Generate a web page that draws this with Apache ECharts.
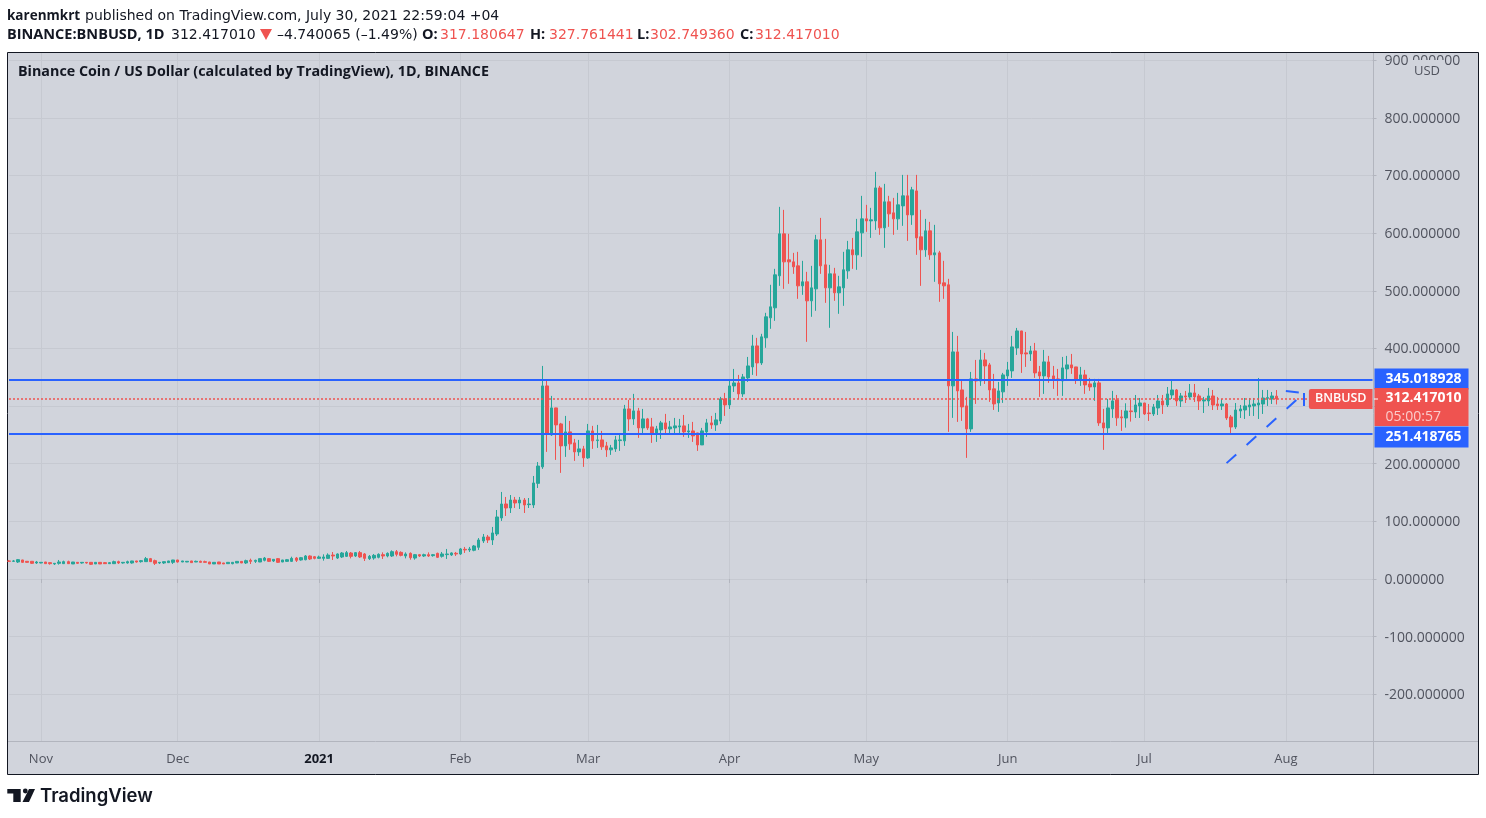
<!DOCTYPE html>
<html>
<head>
<meta charset="utf-8">
<title>BNBUSD</title>
<style>
  html, body { margin: 0; padding: 0; background: #fff; }
  #chart { width: 1486px; height: 818px; }
</style>
<script src="https://cdn.jsdelivr.net/npm/echarts@6/dist/echarts.min.js"></script>
</head>
<body>
<div id="chart"></div>
<script>
// daily candles, 25 Oct 2020 .. 30 Jul 2021, ten per line
var openVals = [
  31.3,30.7,29.5,33,30.7,30.7,27.8,27.8,29.5,28.4,
  26.1,27.2,26.6,30.1,26.1,28.9,27.8,28.9,28.9,26.1,
  28.9,28.4,26.6,26.6,30.1,27.8,27.8,27.8,31.3,30.1,
  30.1,35.3,31.8,27.8,27.8,28.4,28.9,33,29.5,29.5,
  31.3,29.5,30.7,30.1,29.5,26.1,29.5,27.8,26.6,26.6,
  27.8,30.6,27.8,32.4,30.6,29.5,32.4,35.3,31.2,35.3,
  29.5,30.6,30.6,36.4,33,33.5,39.9,38.7,35.8,35.8,
  35.8,41.6,36.4,38.2,39.3,45.1,39.9,45.7,43.4,35.3,
  36.4,37.6,42.2,39.9,39.9,47.4,46.2,39.9,44.5,36.4,
  42.2,39.9,42.2,40.5,44.5,39.4,42.3,41.7,44.6,43.4,
  51.5,50.4,49.8,55,66,72.9,67.7,78.1,105.9,130.1,
  123.2,137,131.9,137,129,128.4,165.9,194.5,334.9,250,
  296.8,269,230.9,255.2,236.1,220.5,225.7,210.1,256.9,240.1,
  241.3,230.9,224,225.7,240.1,239.6,295,277.7,291.6,262.1,
  277.7,263.8,253.4,258.6,270.8,260.4,262.1,263.8,265.6,255.2,
  256.9,253.4,232.6,255.2,270.8,267.3,274.2,312.4,302,334.9,
  340.1,321.1,348.8,367.9,404.3,374.8,418.4,453,470.4,525.9,
  598.7,553.6,550.1,543.2,508.5,515.5,482.5,503.3,588.3,544.9,
  505,529.3,496.4,505,534.5,571,562.3,600.4,624.7,621.2,
  621.2,678.4,609.1,654.2,635.1,624.7,647.2,664.6,631.6,673.2,
  593.5,571,603.9,562.3,565.7,513.7,510.3,335,393.9,328,
  300.3,260.4,347.1,343.6,380,371.4,329.8,305.5,324.6,352.3,
  361,400.8,430.3,392.2,390.4,395.6,359.2,352.3,376.6,352.3,
  347.1,343.6,364.4,371.4,367.9,345.4,354,338.4,333.2,340.2,
  270.8,262.1,295.1,310.7,281.2,279.3,291.5,289.7,300.2,305.3,
  288,286.3,296.7,308.8,301.9,319.2,327.9,308.8,317.5,315.8,
  322.7,317.5,308.8,308.8,317.5,303.6,300.2,303.6,281.1,263.7,
  291.5,293.2,298.4,300.2,301.9,303.6,313.4,312.3,317.18
];
var closeVals = [
  30.7,31.3,33.6,28.9,28.9,27.2,29.5,28.9,26.6,26.6,
  27.2,29.5,30.1,26.6,29.5,27.2,28.9,27.8,25.5,28.9,
  26.1,26.6,28.4,30.1,27.8,28.9,30.1,31.3,29.5,31.8,
  35.3,30.1,27.2,28.9,30.1,31.3,33,29.5,31.3,30.7,
  28.4,30.7,28.9,28.9,26.1,28.9,26.1,26.1,28.9,28.9,
  30.6,27.8,31.8,30.6,32.4,35.3,36.4,30.6,34.1,28.9,
  33,33.5,35.8,32.4,37,39.9,34.7,35.8,38.2,38.2,
  41.6,39.9,43.4,45.1,45.7,39.3,45.7,38.2,35.8,39.3,
  41,42.8,39.9,44.5,47.4,42.8,41,43.4,37,42.2,
  39.9,42.2,39.9,42.2,37.6,43.4,43.4,45.2,43.4,52.1,
  50.4,52.1,57.3,67.7,72.9,67.7,79.9,107.6,130.1,123.2,
  137,131.9,137,128.4,130.1,166.6,196,334.9,252.9,296.8,
  267.3,230.9,255.2,234.4,220.5,225.7,210.1,256.9,239.6,241.3,
  229.2,224,227.4,241.3,241.3,295,277.7,291.6,262.1,277.7,
  262.1,253.4,260.4,270.8,260.4,263.8,265.6,265.6,255.2,256.9,
  248.2,232.6,256.9,270.8,267.3,276,312.4,302,334.9,340.1,
  321.1,350.5,369.6,404.3,374.8,420,454.8,472.1,527.6,598.7,
  550.1,550.1,541.5,508.5,515.5,482.5,505,588.3,543.2,505,
  529.3,496.4,506.8,536.3,571,562.3,602.2,624.7,621.2,623,
  678.4,609.1,654.2,633.4,624.7,649,664.6,631.6,675,591.7,
  571,603.9,562.3,565.7,512,508.5,335,393.9,326.3,298.5,
  260.4,347.1,343.6,380,369.6,328,303.7,326.3,354,362.7,
  402.6,430.3,390.4,390.4,395.6,357.5,352.3,376.6,350.6,345.4,
  344.8,366.2,371.4,366.2,345.4,354,336.7,333.2,340.2,270.8,
  262.1,296.8,308.9,279.5,279.5,291.5,290.3,301.9,305.3,286.3,
  286.9,298.4,308.8,301.9,321,327.9,308.8,317.5,315.8,322.7,
  315.8,308.8,310.6,317.5,301.9,300.7,303.6,279.3,263.7,293.2,
  294.9,300.2,301.9,303.6,305.3,314,314.6,317.5,312.417
];
var lowVals = [
  29.5,29.5,27.8,28.4,28.4,26.1,26.1,27.2,26.4,24.9,
  24.3,24.9,26.4,26.4,26,26.1,26.6,26.6,24.3,26,
  26,26.4,26.4,26.4,26.1,26.6,26.6,26.6,28.4,28.4,
  29.9,29.9,24.3,26.1,26.1,28.2,26.1,28.4,29.3,29.3,
  28.2,29.3,28.7,28.7,26,26,26,26,26.4,25.5,
  27.6,27.6,26,26,27.8,29.3,30.6,29.5,29.5,27.8,
  29.3,29.5,29.5,29.5,31.8,32.4,33,34.1,34.7,31.8,
  34.7,33,34.7,36.4,38.2,35.8,38.2,36.4,31.2,33,
  33.5,35.8,34.7,37.6,38.2,39.3,39.3,35.8,33.5,33.5,
  38.2,38.2,38.2,38.7,36.4,37.1,34.8,40,40,41.7,
  45.2,46.9,48.1,50.4,62.5,62.5,59,74.7,100.7,109.3,
  114.5,123.2,121.5,114.5,123.2,123.2,157.8,191,220.5,248.2,
  206.6,184.1,211.8,224,204.9,213.6,194.5,208.4,225.7,227.4,
  224,211.8,215.3,220.5,222.2,230.9,256.9,267.3,244.8,251.7,
  258.6,236.1,237.8,243,251.7,250,251.7,250,246.5,244.8,
  237.8,222.2,232.4,246.5,260.4,256.9,269,282.9,295,324.5,
  312.4,315.9,341.9,354,352.3,371.3,401,434,447.8,508.5,
  503.3,512,529.3,486,492.9,411.4,454.8,465.2,529.3,479,
  435.7,482.5,460,473.8,520.7,538,536.3,558.8,602.2,591.7,
  605.6,597,574.4,610.8,597,605.6,612.6,586.5,614.3,562.3,
  508.5,558.8,553.6,515.5,480.8,486,255.2,279.5,272.5,274.3,
  210.1,255.2,303.7,335,338.4,307.2,293.3,289.9,305.5,335,
  348.8,388.7,357.5,367.9,378.3,348.8,315.9,321.1,340.2,329.8,
  317.6,317.6,347.1,355.8,338.4,335,321.1,326.3,309,265.6,
  224,251.7,279.5,265.6,256.9,262.6,273,279.3,279.3,284.5,
  274.1,282.8,284.5,286.3,298.4,312.3,300.2,298.4,305.3,312.3,
  307.1,293.2,288,300.2,293.2,293.2,293.2,275.9,253.3,260.3,
  279.3,277.6,282.8,282.8,277.6,286.3,300.2,303.6,302.75
];
var highVals = [
  33,33,34.7,33.3,31,31,31.3,29.5,29.6,28.6,
  27.4,33,31.8,31.8,29.6,29,29.3,29.3,29,29,
  29,29.5,29.5,31.8,31.8,29,31.8,31.5,31.5,33,
  38.2,36.5,33.6,29.2,30.3,31.5,33.2,33.2,31.5,31,
  31.5,31.8,31.8,31.8,29.7,29,29.7,28,29,29,
  30.8,30.8,33.5,35.3,33.5,35.5,38.2,36.4,34.3,36.4,
  33.2,34.7,38.7,38.2,38.2,41.6,41,39.9,40.5,42.8,
  44.5,46.8,44.5,46.8,48.6,46.8,46.8,48.6,45.1,41.6,
  43.4,44.5,46.2,46.2,49.7,50.3,48,46.2,46.2,43.4,
  43.4,43.9,46.2,43.4,45.7,46.9,52.1,46.3,46.9,53.8,
  55.6,55.6,59,71,78.1,76.4,90.3,119.7,151,142.3,
  145.7,142.3,142.3,140.5,140.5,178.7,202.9,369.6,345.3,317.6,
  297,270.8,282.9,274.2,243,241.3,230.9,269,265.6,267.3,
  256.9,237.8,232.6,248.2,250,302,310.7,321.1,296.8,295,
  279.4,279.4,265.6,274.2,286.4,274.2,279.4,277.7,284.6,269,
  272.5,253.6,262.1,277.7,282.9,288.1,315.9,322.8,343.6,364.4,
  354,355.7,385.2,423.5,418.3,425.3,461.7,510.3,538,645.5,
  640.3,598.7,565.7,567.5,551.9,532.8,543.2,597,626.4,590,
  544.9,539.7,525.9,567.5,586.5,591.7,624.7,664.6,649,643.8,
  706.2,681.9,685.4,664.6,661.1,669.8,701,701,680.2,701,
  640.3,624.7,619.5,614.3,569.2,551.9,520.7,428.6,421.7,345.4,
  315.9,359.2,380,397.4,392.2,374.8,355.8,341.9,357.5,376.6,
  421.7,435.5,430.5,428.6,404.3,409.5,369.6,397.4,387,369.6,
  364.4,385.2,387,390.4,368,367.9,362.7,348.8,347.1,347.1,
  295.1,312.4,326.3,319.3,293.3,304.8,310.6,319.2,314,305.5,
  303.6,303.6,319.2,319.2,333.1,343.5,329.6,322.7,326.2,338.3,
  338.3,321,315.8,331.4,327.9,315.8,312.3,305.3,284.5,305.3,
  301.9,314,314,314,348.7,327.9,327.9,324.4,327.76
];

var monthLabels = {
  '2020-11-01': 'Nov', '2020-12-01': 'Dec', '2021-01-01': '2021', '2021-02-01': 'Feb',
  '2021-03-01': 'Mar', '2021-04-01': 'Apr', '2021-05-01': 'May', '2021-06-01': 'Jun',
  '2021-07-01': 'Jul', '2021-08-01': 'Aug'
};
var priceTicks = [-200, -100, 0, 100, 200, 300, 400, 500, 600, 700, 800, 900];
var supportLevels = [345.018928, 251.418765];
var lastPrice = 312.41701;
var trendLine = [['2021-07-19', 201], ['2021-08-05', 322.6]];
var arrowLeft = [['2021-08-01', 326], ['2021-08-05', 322.6]];
var arrowDown = [['2021-08-05', 322.6], ['2021-08-05', 293]];

// the axis runs on past the last candle up to 20 Aug
var categories = [];
for (var d = 0; d < 300; d++) {
    categories.push(new Date(Date.UTC(2020, 9, 25 + d)).toISOString().slice(0, 10));
}
var candles = [];
for (var i = 0; i < openVals.length; i++) {
    candles.push([openVals[i], closeVals[i], lowVals[i], highVals[i]]);
}

var FONT = '"Open Sans", sans-serif';
var WIDE = '14px "DejaVu Sans", sans-serif';
var UP = '#26a69a', DOWN = '#ef5350', BLUE = '#2962ff';
var BG = '#d1d4dc', DARK = '#131722', AXIS = '#50535e', RULE = '#b2b5be', GRID = '#c6c9d1';

function isMonthStart(idx, val) {
    return monthLabels[val] !== undefined;
}
function fmtNum(v) {
    return v.toFixed(6);
}
function levelLabel(v, dy) {
    return {
        show: true, position: 'end', distance: 2, offset: [0, dy], formatter: fmtNum(v),
        color: '#fff', fontFamily: FONT, fontWeight: 'bold', fontSize: 14,
        backgroundColor: BLUE, width: 75, height: 21, lineHeight: 21, padding: [0, 8, 0, 11]
    };
}
function dashed(p) {
    return [
        { xAxis: p[0][0], yAxis: p[0][1], label: { show: false },
          lineStyle: { color: BLUE, width: 2, type: [13, 14], opacity: 1 } },
        { xAxis: p[1][0], yAxis: p[1][1] }
    ];
}
function txt(x, y, text, color, font) {
    return { type: 'text', z: 10, silent: true, x: x, y: y,
        style: { text: text, fill: color, font: font, verticalAlign: 'middle' } };
}
function rule(x1, y1, x2, y2) {
    return { type: 'line', z: 1, silent: true, shape: { x1: x1, y1: y1, x2: x2, y2: y2 },
        style: { stroke: RULE, lineWidth: 1 } };
}

var chrome = [
    { type: 'rect', z: -1, silent: true, shape: { x: 7.5, y: 52.5, width: 1471, height: 722 },
      style: { fill: BG, stroke: DARK, lineWidth: 1 } },
    rule(1373.5, 53, 1373.5, 774),
    rule(8, 741.5, 1478, 741.5),
    { type: 'rect', z: 6, silent: true, shape: { x: 1409, y: 60, width: 35, height: 19 }, style: { fill: BG } },
    txt(1414, 71, 'USD', AXIS, '13px ' + FONT),
    txt(18, 72, 'Binance Coin / US Dollar (calculated by TradingView), 1D, BINANCE', DARK, 'bold 14.3px ' + FONT),
    txt(7, 16, 'karenmkrt', DARK, 'bold 13.5px ' + FONT),
    txt(85, 16, 'published on TradingView.com, July 30, 2021 22:59:04 +04', DARK, WIDE),
    txt(7, 35, 'BINANCE:BNBUSD, 1D', DARK, 'bold 14.5px ' + FONT),
    txt(171, 35, '312.417010', DARK, WIDE),
    { type: 'polygon', z: 10, silent: true, shape: { points: [[260, 29], [272, 29], [266, 40]] }, style: { fill: DOWN } },
    txt(277, 35, '\u20134.740065 (\u20131.49%)', DARK, WIDE),
    txt(422, 35, 'O:', DARK, 'bold 14.5px ' + FONT),
    txt(440, 35, '317.180647', DOWN, WIDE),
    txt(530, 35, 'H:', DARK, 'bold 14.5px ' + FONT),
    txt(549, 35, '327.761441', DOWN, WIDE),
    txt(637, 35, 'L:', DARK, 'bold 14.5px ' + FONT),
    txt(650, 35, '302.749360', DOWN, WIDE),
    txt(740, 35, 'C:', DARK, 'bold 14.5px ' + FONT),
    txt(755, 35, '312.417010', DOWN, WIDE),
    // tradingview logo
    { type: 'polygon', z: 10, silent: true,
      shape: { points: [[7.3, 789], [20.7, 789], [20.7, 802], [13.3, 802], [13.3, 793.5], [7.3, 793.5]] }, style: { fill: DARK } },
    { type: 'circle', z: 10, silent: true, shape: { cx: 25.3, cy: 791, r: 2.4 }, style: { fill: DARK } },
    { type: 'polygon', z: 10, silent: true,
      shape: { points: [[29, 789], [35, 789], [29, 802], [22.5, 802]] }, style: { fill: DARK } },
    txt(40, 796, 'TradingView', DARK, '600 18.5px Inter, sans-serif'),
    { type: 'line', z: 10, silent: true, shape: { x1: 1374, y1: 399, x2: 1378, y2: 399 }, style: { stroke: '#fff', lineWidth: 1 } }
];

var myChart = echarts.init(document.getElementById('chart'));
myChart.setOption({
    animation: false,
    textStyle: { fontFamily: FONT },
    graphic: chrome,
    grid: { left: 9, top: 53, right: 113.5, bottom: 77, containLabel: false },
    xAxis: {
        type: 'category',
        data: categories,
        boundaryGap: false,
        axisLine: { show: false },
        axisTick: { show: true, interval: isMonthStart, length: 4, lineStyle: { color: RULE } },
        splitLine: { show: true, interval: isMonthStart, lineStyle: { color: GRID, width: 1 } },
        axisLabel: {
            show: true, interval: isMonthStart, margin: 12, color: AXIS, fontSize: 13, fontFamily: FONT,
            hideOverlap: false,
            formatter: function (v) {
                return v === '2021-01-01' ? '{b|2021}' : monthLabels[v];
            },
            rich: { b: { fontWeight: 'bold', color: DARK, fontSize: 13, fontFamily: FONT } }
        }
    },
    yAxis: {
        type: 'value',
        position: 'right',
        min: -281,
        max: 912.4,
        axisLine: { show: false },
        axisTick: { show: true, length: 4, lineStyle: { color: RULE }, customValues: priceTicks },
        splitLine: { show: true, lineStyle: { color: GRID, width: 1 } },
        axisLabel: {
            show: true, margin: 12, color: AXIS, fontSize: 14, fontFamily: FONT, customValues: priceTicks,
            showMinLabel: true, showMaxLabel: true,
            formatter: function (v) { return '{a|' + v.toFixed(6) + '}'; },
            rich: { a: { color: AXIS, fontSize: 14, fontFamily: FONT, lineHeight: 16, padding: [2, 0, 0, 0] } }
        }
    },
    series: [{
        type: 'candlestick',
        data: candles,
        barWidth: 3,
        clip: false,
        itemStyle: { color: UP, color0: DOWN, borderColor: UP, borderColor0: DOWN, borderWidth: 1 },
        markLine: {
            silent: true,
            animation: false,
            symbol: ['none', 'none'],
            lineStyle: { color: BLUE, width: 2, type: 'solid', opacity: 1 },
            data: [
                dashed(trendLine), dashed(arrowLeft), dashed(arrowDown),
                { yAxis: supportLevels[0], label: levelLabel(supportLevels[0], -1) },
                { yAxis: supportLevels[1], label: levelLabel(supportLevels[1], 3) },
                {
                    yAxis: lastPrice,
                    lineStyle: { color: DOWN, width: 1.5, type: [2, 2], opacity: 1 },
                    label: {
                        show: true, position: 'end', distance: 2, offset: [0, 8],
                        backgroundColor: DOWN, width: 75, padding: [0, 8, 0, 11],
                        formatter: '{p|' + fmtNum(lastPrice) + '}\n{t|05:00:57}',
                        rich: {
                            p: { color: '#fff', fontFamily: FONT, fontWeight: 'bold', fontSize: 14, lineHeight: 21, height: 21 },
                            t: { color: 'rgba(255,255,255,0.7)', fontFamily: FONT, fontSize: 14, lineHeight: 17, height: 17 }
                        }
                    }
                },
                {
                    yAxis: lastPrice,
                    lineStyle: { color: 'rgba(0,0,0,0)', width: 1, opacity: 1 },
                    label: {
                        show: true, position: 'insideEnd', distance: 0, verticalAlign: 'middle',
                        formatter: 'BNBUSD', color: '#fff', fontFamily: FONT, fontWeight: 600, fontSize: 12.5,
                        backgroundColor: DOWN, padding: [2, 6, 2, 6], borderRadius: [2, 0, 0, 2], lineHeight: 16
                    }
                }
            ]
        }
    }]
});
</script>
</body>
</html>
